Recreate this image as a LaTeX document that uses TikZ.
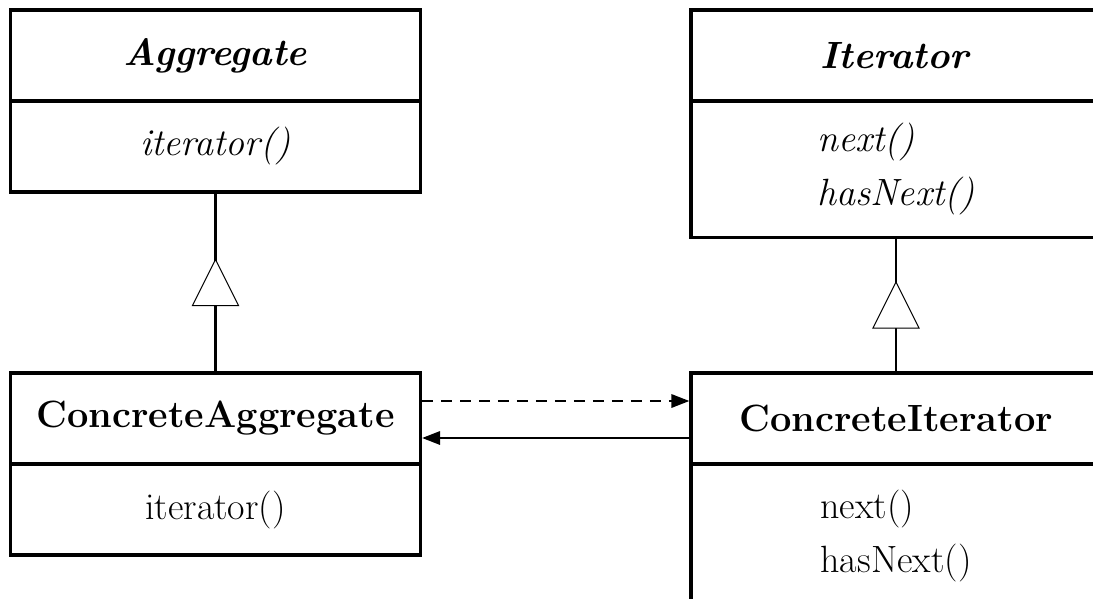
\documentclass[tikz,border=0pt]{standalone}
\usetikzlibrary{arrows.meta,positioning,calc}

\tikzset{
  classbox/.style={draw, line width=2.2pt, minimum width=10.25cm, minimum height=2.275cm,
    inner sep=0pt, outer sep=0pt, align=center, font=\fontsize{27}{38}\selectfont},
  methbox/.style={classbox, align=left},
  genline/.style={line width=1.9pt},
  gentri/.style={draw, fill=white, line width=0.7pt},
  relarrow/.style={line width=1.8pt, -{Triangle[length=0.45cm,width=0.33cm]}},
}

\begin{document}
\begin{tikzpicture}[x=0.025cm, y=-0.025cm]
	\useasboundingbox (0,0) rectangle (1093,599);
	\clip (0,0) rectangle (1093,599);

	% Abstract classes
	\node[classbox] (agg) at (215.5,55.5) {\textbf{\textit{Aggregate}}};
	\node[classbox, below=0pt of agg] (aggops) {\textit{iterator()}};

	\node[classbox] (itr) at (896,55.5) {\textbf{\textit{Iterator}}};
	\node[methbox, below=0pt of itr, minimum height=3.4cm] (itrops) {\textit{next()}\\\textit{hasNext()}};

	% Concrete classes
	\node[classbox] (cagg) at (215.5,418.5) {\textbf{ConcreteAggregate}};
	\node[classbox, below=0pt of cagg] (caggops) {iterator()};

	\node[classbox] (citr) at (896,418.5) {\textbf{ConcreteIterator}};
	\node[methbox, below=0pt of citr, minimum height=3.6cm] (citrops) {next()\\hasNext()};

	% Generalisation
	\draw[genline] (cagg.north) -- coordinate[midway] (aggtri) (aggops.south);
	\draw[gentri] ($(aggtri)+(-23,23)$) -- ($(aggtri)+(23,23)$) -- ($(aggtri)+(0,-23)$) -- cycle;

	\draw[genline, line width=1.2pt] (citr.north) -- coordinate[midway] (itrtri) (itrops.south);
	\draw[gentri] ($(itrtri)+(-23,23)$) -- ($(itrtri)+(23,23)$) -- ($(itrtri)+(0,-23)$) -- cycle;

	% Creates / refers
	\draw[relarrow, dash pattern=on 7.8pt off 5.7pt] ($(cagg.east)+(1.5,-17.5)$) -- ($(citr.west)+(-1.5,-17.5)$);
	\draw[relarrow] ($(citr.west)+(-1.5,19.5)$) -- ($(cagg.east)+(1.5,19.5)$);
\end{tikzpicture}
\end{document}
